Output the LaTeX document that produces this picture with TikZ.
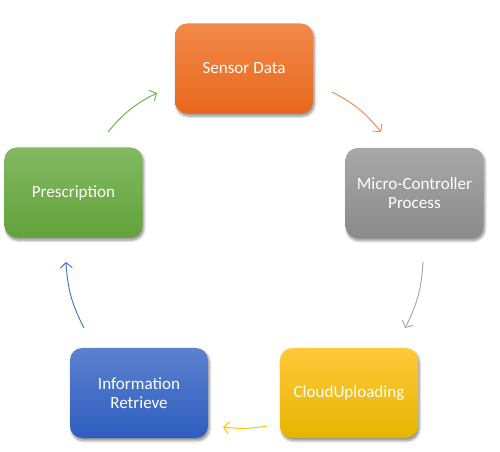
\documentclass[tikz,border=0pt]{standalone}
\usepackage{fontspec}
\setmainfont{Carlito}
\usetikzlibrary{arrows.meta,shadows.blur}
\definecolor{orT}{HTML}{F2894A}\definecolor{orB}{HTML}{E8681C}
\definecolor{grT}{HTML}{A8A8A8}\definecolor{grB}{HTML}{8A8A8A}
\definecolor{yeT}{HTML}{FFC93A}\definecolor{yeB}{HTML}{E6B400}
\definecolor{blT}{HTML}{5B82CF}\definecolor{blB}{HTML}{2E5DBE}
\definecolor{gnT}{HTML}{82B962}\definecolor{gnB}{HTML}{62A23A}
\definecolor{orA}{HTML}{F08A4B}\definecolor{grA}{HTML}{A5A5A5}
\definecolor{yeA}{HTML}{FFC000}\definecolor{blA}{HTML}{4472C4}
\definecolor{gnA}{HTML}{70AD47}
\tikzset{
  box/.style={rounded corners=9pt, minimum width=103.5pt, minimum height=67.5pt,
    text=white, align=center, font=\fontsize{12.8}{14}\selectfont,
    blur shadow={shadow xshift=1pt, shadow yshift=-2pt, shadow opacity=45, shadow blur steps=6}},
  cyc/.style={line width=0.7pt, -{Straight Barb[length=4pt,width=9pt,line width=0.7pt]}}
}
\begin{document}
\begin{tikzpicture}[x=0.75pt,y=-0.75pt]
\useasboundingbox (0,0) rectangle (500,452);
\node[box, top color=orT, bottom color=orB] (sd) at (244,68.5) {Sensor Data};
\node[box, top color=grT, bottom color=grB] (mc) at (414.5,193) {Micro-Controller\\Process};
\node[box, top color=yeT, bottom color=yeB] (cu) at (349,393) {CloudUploading};
\node[box, top color=blT, bottom color=blB] (ir) at (139,393) {Information\\Retrieve};
\node[box, top color=gnT, bottom color=gnB] (pr) at (73.5,192.5) {Prescription};
\coordinate (a1) at (332,92); \coordinate (b1) at (381,132);
\coordinate (a2) at (423,262); \coordinate (b2) at (405,328);
\coordinate (a3) at (267,426); \coordinate (b3) at (223,427);
\coordinate (a4) at (84,328); \coordinate (b4) at (66,262);
\coordinate (a5) at (108,132); \coordinate (b5) at (157,93);
\draw[cyc, orA] (a1) to[bend left=12] (b1);
\draw[cyc, grA] (a2) to[bend left=12] (b2);
\draw[cyc, yeA] (a3) to[bend left=8] (b3);
\draw[cyc, blA] (a4) to[bend left=12] (b4);
\draw[cyc, gnA] (a5) to[bend left=12] (b5);
\end{tikzpicture}
\end{document}
